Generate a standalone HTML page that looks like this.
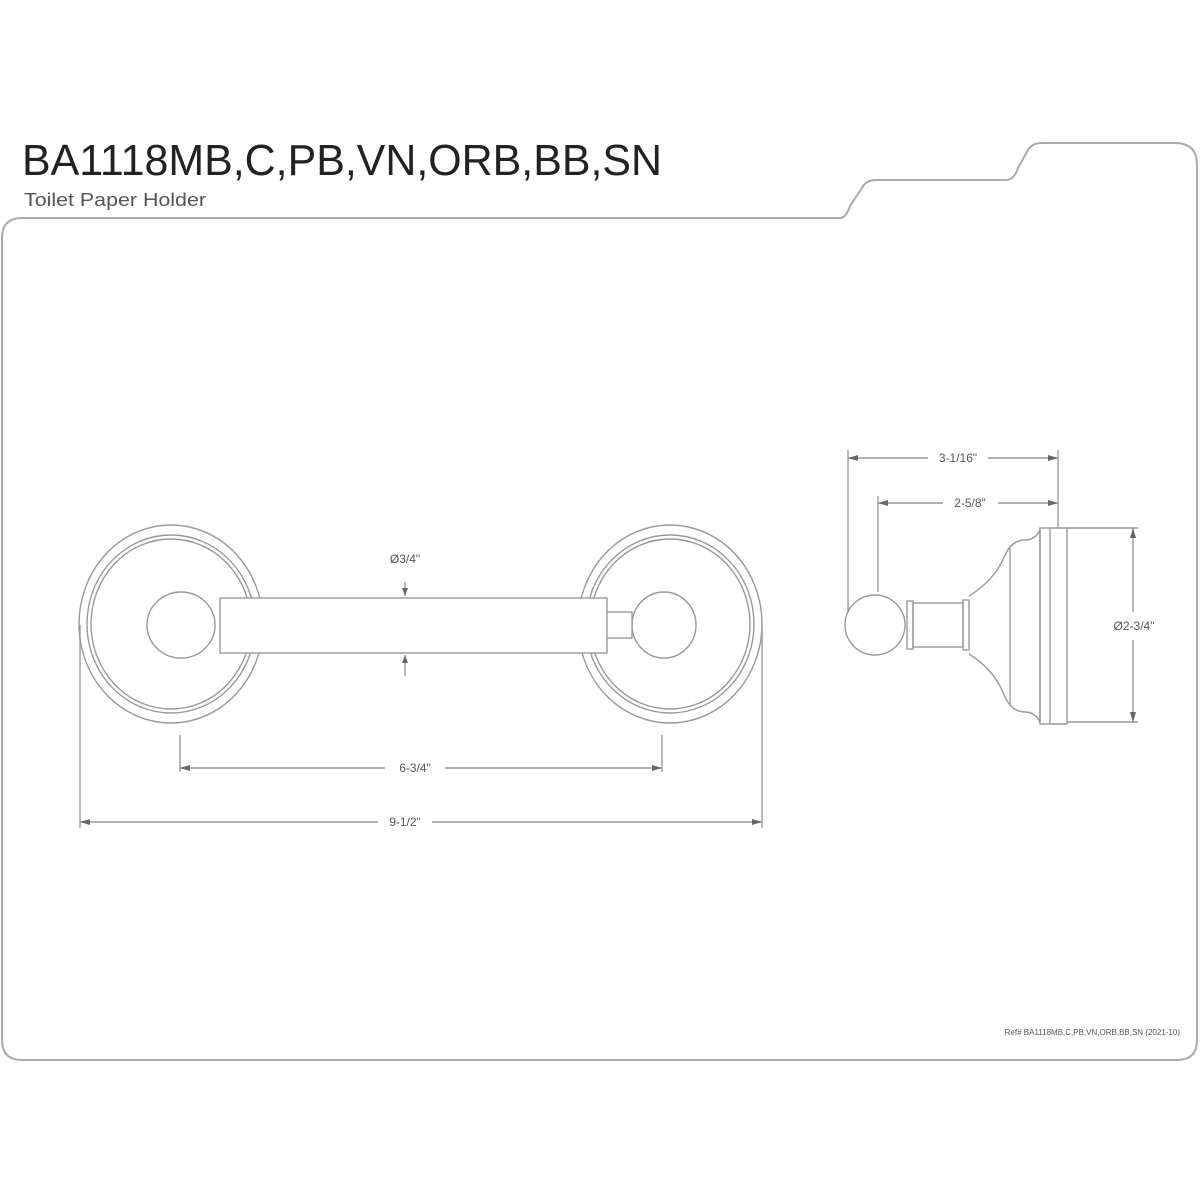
<!DOCTYPE html>
<html><head><meta charset="utf-8"><style>
html,body{margin:0;padding:0;background:#fff;}
svg{display:block;}
text{font-family:"Liberation Sans",sans-serif;fill:#555;}
</style></head><body>
<svg width="1200" height="1200" viewBox="0 0 1200 1200" xmlns="http://www.w3.org/2000/svg">
<rect width="1200" height="1200" fill="#fff"/>
<text x="22" y="175" font-size="44" style="fill:#222" textLength="640" lengthAdjust="spacingAndGlyphs">BA1118MB,C,PB,VN,ORB,BB,SN</text>
<text x="24" y="206" font-size="18" textLength="182" lengthAdjust="spacingAndGlyphs">Toilet Paper Holder</text>
<path d="M2 1040 L2 238 Q2 218 22 218 L840 218 Q846 218 850 206 L862 188 Q866 180 876 180 L1006 180 Q1014 180 1018 168 L1028 150 Q1032 143 1042 143 L1175 143 Q1197 143 1197 165 L1197 1040 Q1197 1060 1177 1060 L22 1060 Q2 1060 2 1040 Z" fill="none" stroke="#aaa" stroke-width="2"/>
<g fill="none" stroke="#999" stroke-width="1.4">
<ellipse cx="171" cy="624" rx="92" ry="99"/>
<ellipse cx="171" cy="624" rx="84" ry="89"/>
<ellipse cx="171" cy="624" rx="80" ry="85"/>
<ellipse cx="181" cy="625" rx="34" ry="33"/>
<ellipse cx="670" cy="624" rx="92" ry="99"/>
<ellipse cx="670" cy="624" rx="84" ry="89"/>
<ellipse cx="670" cy="624" rx="80" ry="85"/>
<ellipse cx="664" cy="625" rx="32" ry="33"/>
<rect x="606" y="612" width="26" height="26" fill="#fff"/>
<rect x="220" y="598" width="387" height="55" fill="#fff"/>
<line x1="405" y1="582" x2="405" y2="596"/>
<line x1="405" y1="655" x2="405" y2="676"/>
<line x1="180" y1="735" x2="180" y2="772"/>
<line x1="662" y1="735" x2="662" y2="772"/>
<line x1="180" y1="768" x2="385" y2="768"/>
<line x1="445" y1="768" x2="662" y2="768"/>
<line x1="80" y1="625" x2="80" y2="828"/>
<line x1="762" y1="625" x2="762" y2="828"/>
<line x1="80" y1="822" x2="378" y2="822"/>
<line x1="432" y1="822" x2="762" y2="822"/>
<line x1="848" y1="450" x2="848" y2="630"/>
<line x1="1058" y1="450" x2="1058" y2="528"/>
<line x1="878" y1="496" x2="878" y2="592"/>
<line x1="848" y1="458" x2="928" y2="458"/>
<line x1="988" y1="458" x2="1058" y2="458"/>
<line x1="878" y1="503" x2="943" y2="503"/>
<line x1="998" y1="503" x2="1058" y2="503"/>
<circle cx="875" cy="625" r="30" fill="#fff"/>
<rect x="907" y="601" width="6" height="48"/>
<rect x="913" y="603" width="50" height="44"/>
<rect x="963" y="600" width="6" height="50"/>
<path d="M969 596 Q995 580 1005 555 Q1012 540 1025 540 Q1035 540 1040 530 L1040 722 Q1035 712 1025 712 Q1012 712 1005 697 Q995 670 969 654"/>
<line x1="1010" y1="548" x2="1010" y2="705"/>
<rect x="1040" y="528" width="10" height="196"/>
<path d="M1050 528 L1067 528 L1067 724 L1050 724"/>
<line x1="1067" y1="528" x2="1138" y2="528"/>
<line x1="1067" y1="722" x2="1138" y2="722"/>
<line x1="1133" y1="528" x2="1133" y2="612"/>
<line x1="1133" y1="640" x2="1133" y2="722"/>
</g>
<g fill="#666">
<path d="M180 768 l10 -3 v6 z M662 768 l-10 -3 v6 z"/>
<path d="M80 822 l10 -3 v6 z M762 822 l-10 -3 v6 z"/>
<path d="M405 596 l-3 -8 h6 z M405 655 l-3 8 h6 z"/>
<path d="M848 458 l10 -3 v6 z M1058 458 l-10 -3 v6 z"/>
<path d="M878 503 l10 -3 v6 z M1058 503 l-10 -3 v6 z"/>
<path d="M1133 528 l-3 10 h6 z M1133 722 l-3 -10 h6 z"/>
</g>
<g font-size="12" text-anchor="middle">
<text x="405" y="563">Ø3/4"</text>
<text x="415" y="772">6-3/4"</text>
<text x="405" y="826">9-1/2"</text>
<text x="958" y="462">3-1/16"</text>
<text x="970" y="507">2-5/8"</text>
<text x="1134" y="630">Ø2-3/4"</text>
</g>
<text x="1180" y="1035" font-size="8" text-anchor="end">Ref# BA1118MB,C,PB,VN,ORB,BB,SN (2021-10)</text>
</svg>
</body></html>
